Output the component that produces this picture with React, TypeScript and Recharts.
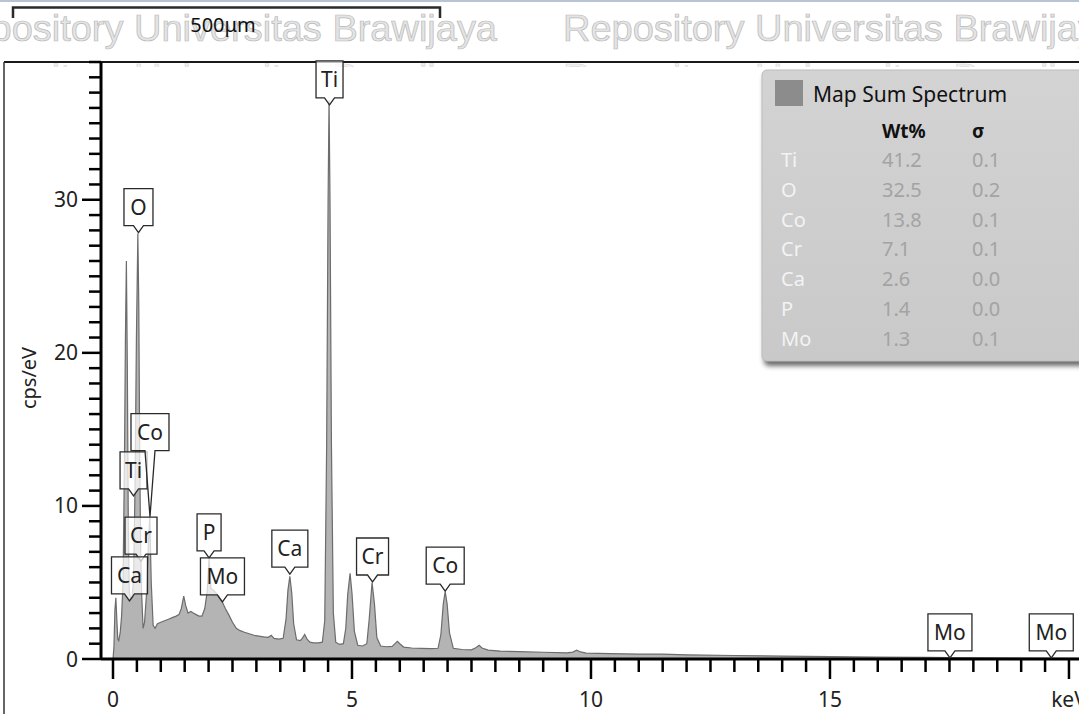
import React from 'react';
import { ComposedChart, Area, XAxis, YAxis, ReferenceDot } from 'recharts';

// EDS spectrum: [energy keV, cps/eV]
const spectrumPoints: [number, number][] = [
  [0, 0], [0.02, 0.8], [0.04, 3.2], [0.06, 4.0], [0.08, 2.6], [0.1, 1.3], [0.12, 1.2], [0.15, 1.7],
  [0.18, 2.8], [0.21, 5.0], [0.24, 13], [0.26, 21], [0.28, 26.0], [0.3, 19], [0.32, 9], [0.34, 4.4],
  [0.37, 3.9], [0.4, 4.0], [0.43, 5.2], [0.46, 11], [0.49, 21], [0.52, 27.8], [0.54, 23], [0.56, 13],
  [0.58, 7], [0.6, 4.2], [0.63, 2.0], [0.66, 2.4], [0.7, 4.2], [0.74, 7.5], [0.77, 9.3], [0.8, 5.0],
  [0.84, 2.2], [0.88, 2.0], [0.93, 2.3], [1.0, 2.4], [1.08, 2.5], [1.16, 2.6], [1.24, 2.7], [1.32, 2.8],
  [1.38, 2.9], [1.43, 3.3], [1.48, 4.1], [1.52, 3.5], [1.57, 3.0], [1.63, 3.1], [1.68, 3.0], [1.74, 2.9],
  [1.8, 2.8], [1.86, 2.8], [1.92, 3.3], [1.97, 4.4], [2.01, 6.6], [2.05, 4.6], [2.1, 4.5], [2.16, 4.3],
  [2.22, 4.0], [2.29, 3.7], [2.35, 3.3], [2.42, 2.9], [2.5, 2.4], [2.58, 2.0], [2.66, 1.85], [2.75, 1.75],
  [2.85, 1.65], [2.95, 1.55], [3.05, 1.5], [3.15, 1.45], [3.25, 1.42], [3.31, 1.55], [3.37, 1.35],
  [3.47, 1.3], [3.56, 1.35], [3.62, 2.6], [3.66, 4.5], [3.7, 5.4], [3.74, 4.3], [3.78, 2.3], [3.84, 1.25],
  [3.92, 1.2], [3.97, 1.4], [4.01, 1.6], [4.06, 1.3], [4.12, 1.1], [4.2, 1.05], [4.3, 1.05], [4.38, 1.1],
  [4.43, 2.5], [4.47, 14], [4.5, 30], [4.52, 36.5], [4.54, 30], [4.57, 14], [4.61, 3.0], [4.66, 1.1],
  [4.74, 0.95], [4.82, 1.0], [4.87, 2.0], [4.91, 4.2], [4.96, 5.6], [5.0, 4.3], [5.05, 1.8], [5.12, 0.9],
  [5.22, 0.85], [5.31, 1.0], [5.36, 2.6], [5.42, 5.0], [5.47, 3.6], [5.52, 1.4], [5.6, 0.85], [5.72, 0.8],
  [5.84, 0.82], [5.9, 1.0], [5.95, 1.15], [6.0, 1.0], [6.08, 0.78], [6.25, 0.72], [6.45, 0.7], [6.65, 0.68],
  [6.8, 0.7], [6.86, 1.6], [6.91, 3.6], [6.95, 4.4], [6.99, 3.6], [7.04, 1.7], [7.12, 0.7], [7.3, 0.62],
  [7.5, 0.6], [7.6, 0.75], [7.66, 0.9], [7.72, 0.72], [7.85, 0.58], [8.1, 0.52], [8.5, 0.48], [9.0, 0.44],
  [9.5, 0.4], [9.62, 0.45], [9.7, 0.58], [9.78, 0.46], [9.9, 0.38], [10.4, 0.35], [11.0, 0.32],
  [11.5, 0.32], [12.0, 0.27], [13.0, 0.23], [14.0, 0.19], [15.0, 0.15], [16.0, 0.12], [17.0, 0.1],
  [18.0, 0.08], [19.0, 0.06], [20.21, 0.05],
];

// Peak identification labels
const peakElements = ['O', 'Ti', 'Co', 'Cr', 'Ca', 'P', 'Mo', 'Ca', 'Ti', 'Cr', 'Co', 'Mo', 'Mo'];
const peakEnergies = [0.533, 0.43, 0.774, 0.586, 0.345, 2.01, 2.29, 3.7, 4.53, 5.43, 6.95, 17.51, 19.63];
const peakHeights = [27.85, 10.65, 9.3, 6.4, 3.8, 6.6, 3.73, 5.55, 36.2, 5.03, 4.44, 0.07, 0.07];

// Legend table
const legendElements = ['Ti', 'O', 'Co', 'Cr', 'Ca', 'P', 'Mo'];
const legendWt = ['41.2', '32.5', '13.8', '7.1', '2.6', '1.4', '1.3'];
const legendSigma = ['0.1', '0.2', '0.1', '0.1', '0.0', '0.0', '0.1'];

// Axis ticks
const xTicks = Array.from({ length: 41 }, (_, i) => i * 0.5);
const yTicks = Array.from({ length: 40 }, (_, i) => i);
const xTickLabels: Record<number, string> = { 0: '0', 5: '5', 10: '10', 15: '15', 20: 'keV' };

const spectrum = spectrumPoints.map(([e, v]) => ({ e, v }));

const FONT = '"Noto Sans", "Open Sans", sans-serif';
const boxWidths: Record<string, number> = { Ti: 27, O: 29, Co: 38, Cr: 32, Ca: 36, P: 24, Mo: 44 };
const pointerLift: Record<number, number> = { 2: 66 };

const XTick = (props: any) => {
  const { x, y, payload } = props;
  const v = payload.value;
  const major = Math.abs(v / 5 - Math.round(v / 5)) < 1e-6;
  const label = xTickLabels[Math.round(v)];
  return (
    <g>
      <line x1={x} x2={x} y1={y} y2={y + (major ? 20 : 13)} stroke="#000" strokeWidth={2.5} />
      {major && label !== undefined && (
        <text x={x} y={y + 48} textAnchor="middle" fontFamily={FONT} fontSize={21} fill="#222">
          {label}
        </text>
      )}
    </g>
  );
};

const YTick = (props: any) => {
  const { x, y, payload } = props;
  const v = payload.value;
  const major = v % 10 === 0;
  return (
    <g>
      <line x1={x - (major ? 19 : 12)} x2={x} y1={y} y2={y} stroke="#000" strokeWidth={2.5} />
      {major && (
        <text x={x - 23} y={y + 7.5} textAnchor="end" fontFamily={FONT} fontSize={21} fill="#222">
          {v}
        </text>
      )}
    </g>
  );
};

const makeCallout = (name: string, lift: number) => (p: any) => {
  const { cx, cy } = p;
  if (cx == null || cy == null) return <g />;
  const w = boxWidths[name] ?? 30;
  const h = 37;
  const bottom = cy - lift;
  const top = bottom - h;
  const l = cx - w / 2;
  const r = cx + w / 2;
  const d = `M${l},${top} H${r} V${bottom} H${cx + 5} L${cx},${cy} L${cx - 5},${bottom} H${l} Z`;
  return (
    <g>
      <path d={d} fill="#ffffff" fillOpacity={0.72} stroke="#2a2a2a" strokeWidth={1.3} />
      <text x={cx} y={top + 26} textAnchor="middle" fontFamily={FONT} fontSize={21} fill="#222">
        {name}
      </text>
    </g>
  );
};

const WATERMARK = 'Repository Universitas Brawijaya';

export default function App() {
  return (
    <div style={{ position: 'absolute', left: 0, top: 0, width: 1079, height: 714, background: '#fff', overflow: 'hidden' }}>
      <svg width={1079} height={714} style={{ position: 'absolute', left: 0, top: 0 }}>
        <defs>
          <clipPath id="wmclip2">
            <rect x={0} y={62} width={1079} height={5} />
          </clipPath>
        </defs>
        <rect x={0} y={0} width={1079} height={2} fill="#b9c3d6" />
        {[-58, 563].map((x) => (
          <text key={x} x={x} y={41} fontFamily='"Liberation Sans", Arial, sans-serif' fontSize={37}
            textLength={555} lengthAdjust="spacingAndGlyphs" fill="#e4e4e4" stroke="#b9b9b9" strokeWidth={0.7}>
            {WATERMARK}
          </text>
        ))}
        <g clipPath="url(#wmclip2)">
          {[-58, 563].map((x) => (
            <text key={x} x={x} y={90} fontFamily='"Liberation Sans", Arial, sans-serif' fontSize={37}
              textLength={555} lengthAdjust="spacingAndGlyphs" fill="#f0f0f0" stroke="#d6d6d6" strokeWidth={0.6}>
              {WATERMARK}
            </text>
          ))}
        </g>
        <path d="M13,18 V7.5 H440 V18" fill="none" stroke="#2a2a2a" strokeWidth={2.5} />
        <text x={223} y={32} textAnchor="middle" fontFamily={FONT} fontSize={20} fill="#111">500μm</text>
        <line x1={4} x2={1079} y1={62} y2={62} stroke="#1a1a1a" strokeWidth={2} />
        <line x1={4} x2={4} y1={62} y2={714} stroke="#333" strokeWidth={1.5} />
        <text transform="translate(36,378) rotate(-90)" textAnchor="middle" fontFamily={FONT} fontSize={20} fill="#222">
          cps/eV
        </text>
      </svg>
      <div style={{ position: 'absolute', left: 0, top: 0 }}>
        <ComposedChart width={1079} height={714} data={spectrum} margin={{ top: 62, right: 0, bottom: 0, left: 0 }}>
          <XAxis dataKey="e" type="number" domain={[-0.251, 20.21]} ticks={xTicks} interval={0}
            allowDataOverflow tick={<XTick />} tickLine={false} tickSize={0} tickMargin={0} height={55}
            axisLine={{ stroke: '#000', strokeWidth: 3 }} />
          <YAxis type="number" domain={[0, 39]} ticks={yTicks} interval={0} allowDataOverflow
            tick={<YTick />} tickLine={false} tickSize={0} tickMargin={0} width={101}
            axisLine={{ stroke: '#000', strokeWidth: 3 }} />
          <Area dataKey="v" type="linear" fill="#b4b4b4" fillOpacity={1} stroke="#6c6c6c" strokeWidth={1.2}
            isAnimationActive={false} dot={false} activeDot={false} />
          {peakElements.map((name, i) => (
            <ReferenceDot key={i} x={peakEnergies[i]} y={peakHeights[i]} r={1} ifOverflow="visible"
              shape={makeCallout(name, pointerLift[i] ?? 7)} />
          ))}
        </ComposedChart>
      </div>
      <svg width={1079} height={714} style={{ position: 'absolute', left: 0, top: 0, pointerEvents: 'none' }}>
        <defs>
          <filter id="legshadow" x="-10%" y="-10%" width="130%" height="130%">
            <feGaussianBlur stdDeviation="2.5" />
          </filter>
          <linearGradient id="leggrad" x1="0" y1="0" x2="0" y2="1">
            <stop offset="0" stopColor="#d3d3d3" />
            <stop offset="1" stopColor="#c9c9c9" />
          </linearGradient>
        </defs>
        <rect x={764} y={74} width={330} height={292} rx={5} fill="#3a3a3a" opacity={0.75} filter="url(#legshadow)" />
        <rect x={762} y={70} width={330} height={291} rx={5} fill="url(#leggrad)" stroke="#bdbdbd" strokeWidth={1} />
        <rect x={775} y={80} width={28} height={26} fill="#8c8c8c" />
        <text x={813} y={102} fontFamily={FONT} fontSize={21} fill="#111">Map Sum Spectrum</text>
        <text x={882} y={138} fontFamily={FONT} fontSize={19} fontWeight="bold" fill="#111">Wt%</text>
        <text x={972} y={138} fontFamily={FONT} fontSize={19} fontWeight="bold" fill="#111">σ</text>
        {legendElements.map((el, i) => (
          <g key={el}>
            <text x={781} y={167 + i * 29.8} fontFamily={FONT} fontSize={20} fill="#f3f3f3">{el}</text>
            <text x={882} y={167 + i * 29.8} fontFamily={FONT} fontSize={20} fill="#a3a3a3">{legendWt[i]}</text>
            <text x={972} y={167 + i * 29.8} fontFamily={FONT} fontSize={20} fill="#a3a3a3">{legendSigma[i]}</text>
          </g>
        ))}
      </svg>
    </div>
  );
}
